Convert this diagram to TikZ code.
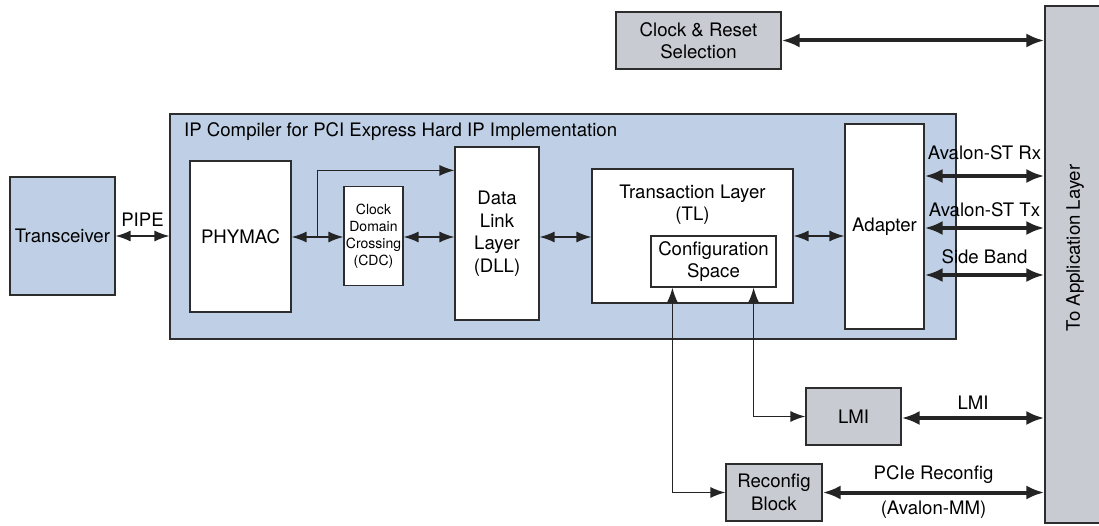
\documentclass[tikz,border=0pt]{standalone}
\usepackage{fontspec}
\setmainfont{TeX Gyre Heros}
\usepackage{tikz}
\usetikzlibrary{arrows.meta,positioning,calc}
\definecolor{azulip}{RGB}{191,208,230}
\definecolor{grisapp}{RGB}{201,203,211}
\definecolor{borde}{RGB}{45,45,45}
\tikzstyle{bloque} = [draw=borde, line width=1.2pt, fill=white, rectangle, align=center, inner sep=0pt, font=\fontsize{18.6}{22.5}\selectfont]
\tikzstyle{bloqueazul} = [bloque, fill=azulip]
\tikzstyle{bloquegris} = [bloque, fill=grisapp]
\tikzstyle{etiqueta} = [font=\fontsize{18.6}{22.5}\selectfont, inner sep=0pt, align=center]
\tikzstyle{flecha} = [draw=borde!80!black, line width=1.3pt, {Latex[length=15pt,width=11pt]}-{Latex[length=15pt,width=11pt]}]
\tikzstyle{flechauna} = [draw=borde!80!black, line width=1.3pt, -{Latex[length=15pt,width=11pt]}]
\tikzstyle{gruesa} = [draw=borde!80!black, line width=4pt, {Latex[length=18pt,width=14pt]}-{Latex[length=18pt,width=14pt]}, shorten <=0pt, shorten >=0pt]

\begin{document}
\begin{tikzpicture}[x=1pt, y=-1pt]
		\useasboundingbox (0,0) rectangle (1099,526);
		% bloques principales
		\node[bloqueazul, minimum width=105pt, minimum height=118pt] (trans) at (62.5,236) {Transceiver};
		\node[bloqueazul, minimum width=786pt, minimum height=225pt] (ip) at (563,226.5) {};
		\node[etiqueta, anchor=west] (iptitulo) at (184,132) {IP Compiler for PCI Express Hard IP Implementation};
		\node[bloque, minimum width=101pt, minimum height=151pt] (phymac) at (240.5,236.5) {PHYMAC};
		\node[bloque, minimum width=59pt, minimum height=99pt, font=\fontsize{14}{17}\selectfont] (cdc) at (373.5,236) {Clock\\Domain\\Crossing\\(CDC)};
		\node[bloque, minimum width=84pt, minimum height=173pt] (dll) at (497,233.5) {Data\\Link\\Layer\\(DLL)};
		\node[bloque, minimum width=201pt, minimum height=134pt] (tl) at (692.5,236) {};
		\node[etiqueta, below=16pt of tl.north] (tltexto) {Transaction Layer\\(TL)};
		\node[bloque, minimum width=125pt, minimum height=51pt] (cfg) at (713.5,261.5) {Configuration\\Space};
		\node[bloque, minimum width=79pt, minimum height=205pt] (adapter) at (884.5,226.5) {Adapter};
		% lado derecho
		\node[bloquegris, minimum width=56pt, minimum height=517pt] (app) at (1073,264.5) {};
		\node[etiqueta, rotate=90] (apptexto) at (1075,248) {To Application Layer};
		\node[bloquegris, minimum width=165pt, minimum height=57pt] (clk) at (698.5,40.5) {Clock \& Reset\\Selection};
		\node[bloquegris, minimum width=95pt, minimum height=57pt] (lmi) at (853.5,416.5) {LMI};
		\node[bloquegris, minimum width=96pt, minimum height=57pt] (reconf) at (774,492.5) {Reconfig\\Block};
		% conexiones internas
		\draw[flecha] (trans.east) -- (trans.east -| ip.west) node[etiqueta, midway, above=9pt] (pipe) {PIPE};
		\draw[flecha] (phymac.east |- 0,237) -- (cdc.west |- 0,237);
		\coordinate (split) at ($(phymac.east |- 0,237)!0.5!(cdc.west |- 0,237)$);
		\draw[flechauna] (split) |- ($(dll.north west)+(0,24)$);
		\draw[flecha] (cdc.east |- 0,237) -- (dll.west |- 0,237);
		\draw[flecha] (dll.east |- 0,237) -- (tl.west |- 0,237);
		\draw[flecha] (tl.east) -- (tl.east -| adapter.west);
		\draw[flecha] ($(cfg.south west)+(22,0)$) |- (reconf.west);
		\draw[flecha] ($(cfg.south east)+(-23,0)$) |- (lmi.west);
		% buses hacia la capa de aplicacion
		\draw[gruesa] (clk.east) -- (clk.east -| app.west);
		\draw[gruesa] (adapter.east |- 0,176) -- (app.west |- 0,176) node[etiqueta, midway, above=14pt] (rx) {Avalon-ST Rx};
		\draw[gruesa] (adapter.east |- 0,228) -- (app.west |- 0,228) node[etiqueta, midway, above=9pt] (tx) {Avalon-ST Tx};
		\draw[gruesa] (adapter.east |- 0,275) -- (app.west |- 0,275) node[etiqueta, midway, above=9pt] (sb) {Side Band};
		\draw[gruesa] (lmi.east |- 0,418) -- (app.west |- 0,418) node[etiqueta, midway, above=7pt] (lmitexto) {LMI};
		\draw[gruesa] (reconf.east) -- (reconf.east -| app.west) node[etiqueta, midway, above=7pt] (pcie) {PCIe Reconfig} node[etiqueta, midway, below=6pt] (avmm) {(Avalon-MM)};
	\end{tikzpicture}
\end{document}
